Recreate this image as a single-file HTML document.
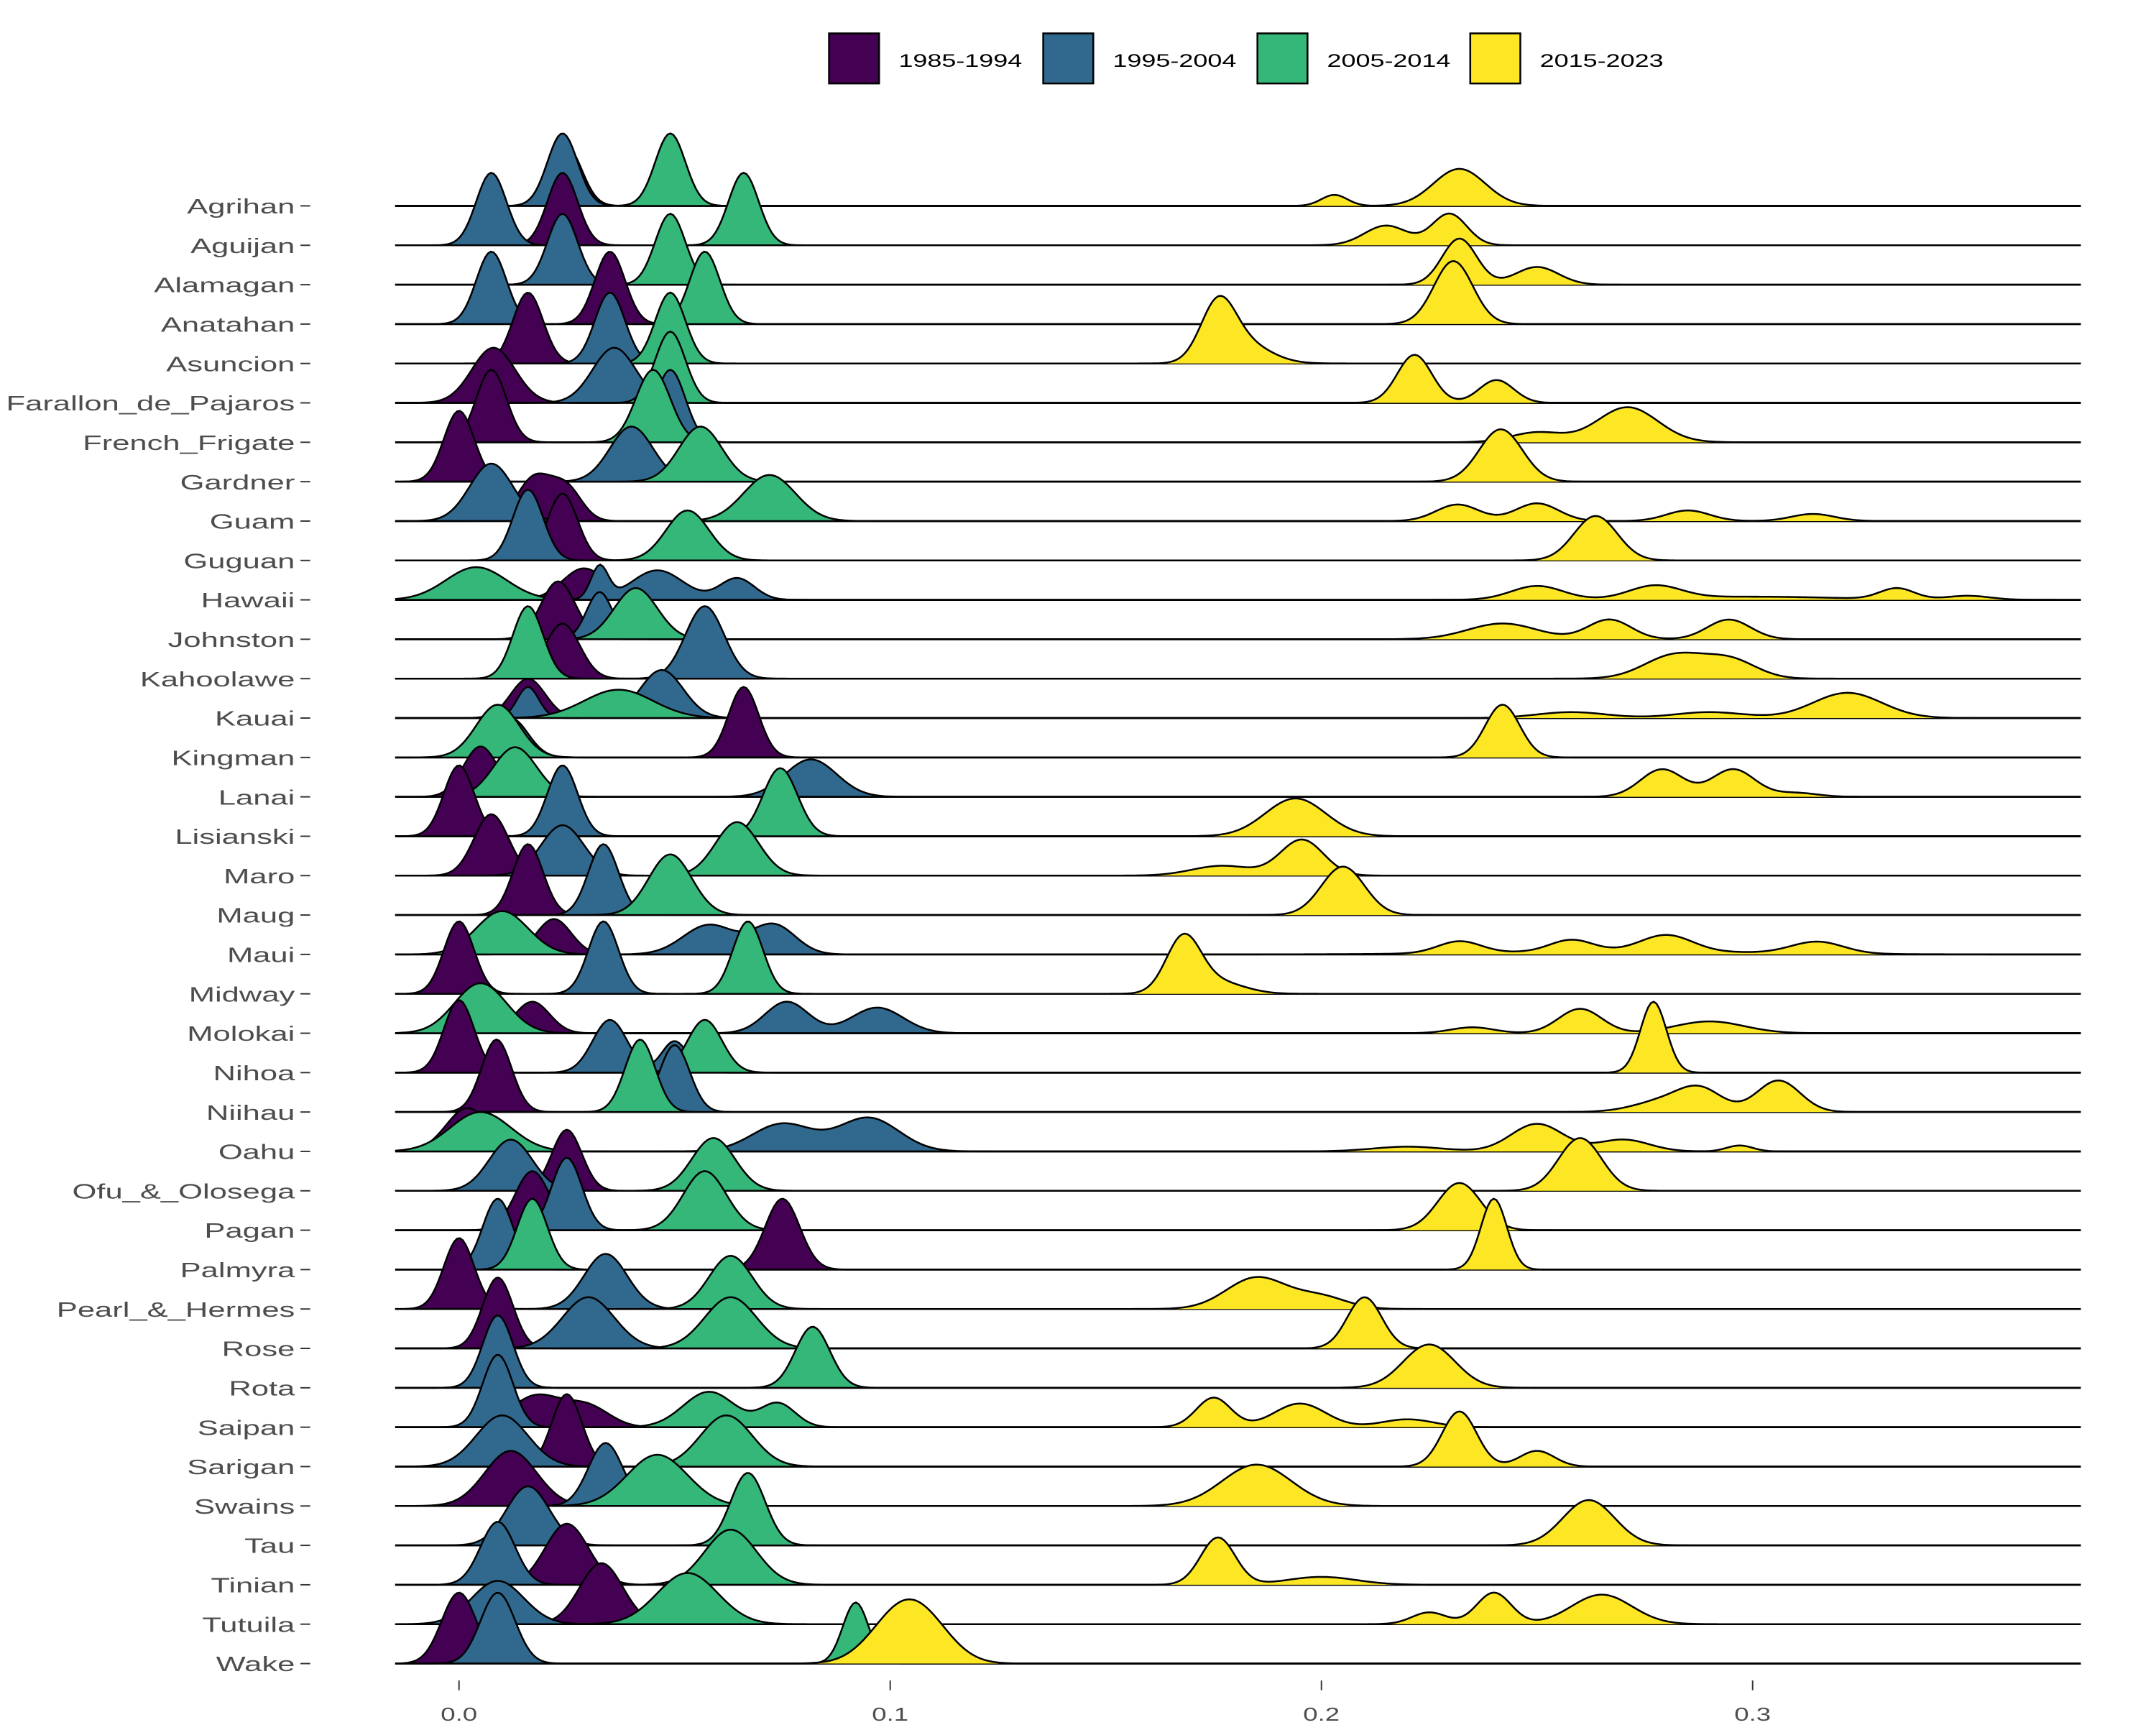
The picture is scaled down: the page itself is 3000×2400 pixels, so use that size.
<!DOCTYPE html>
<html><head><meta charset="utf-8"><style>
html,body{margin:0;padding:0;background:#fff;}
svg{display:block;font-family:"Liberation Sans",Arial,sans-serif;}
</style></head><body>
<svg id="chart" width="3000" height="2400" viewBox="0 0 1550 1240" xmlns="http://www.w3.org/2000/svg">
<g id="legend"></g>
<g id="ridges"></g>
<g id="yaxis"></g>
<g id="xaxis"></g>
</svg>
<script>
const islands = ["Agrihan","Aguijan","Alamagan","Anatahan","Asuncion","Farallon_de_Pajaros","French_Frigate","Gardner","Guam","Guguan","Hawaii","Johnston","Kahoolawe","Kauai","Kingman","Lanai","Lisianski","Maro","Maug","Maui","Midway","Molokai","Nihoa","Niihau","Oahu","Ofu_&_Olosega","Pagan","Palmyra","Pearl_&_Hermes","Rose","Rota","Saipan","Sarigan","Swains","Tau","Tinian","Tutuila","Wake"];
const periods = ["1985-1994","1995-2004","2005-2014","2015-2023"];
const periodColors = ["#440154","#31688E","#35B779","#FDE725"];
const xTicks = [0.0,0.1,0.2,0.3];
const xTickLabels = ["0.0","0.1","0.2","0.3"];
// density components per island: [center, sd, height in row units]
const p1985 = [
 [[0.025,.0035,1.5]],[[0.024,.0035,1.84]],[[0.024,.0035,1.2]],[[0.035,.0035,1.84]],[[0.016,.0035,1.8]],
 [[0.008,.005,1.4]],[[0.0075,.0035,1.84]],[[0.0,.0035,1.8]],[[0.0175,.004,1.1],[0.025,.0035,0.8]],[[0.024,.0035,1.7]],
 [[0.029,.005,0.8]],[[0.023,.004,1.47]],[[0.024,.004,1.4]],[[0.016,.004,1.0]],[[0.066,.0035,1.79]],
 [[0.005,.004,1.28]],[[0.0,.0035,1.8]],[[0.0075,.004,1.56]],[[0.016,.0035,1.8]],[[0.022,.004,0.9]],
 [[0.0,.0035,1.84]],[[0.017,.004,0.8]],[[0.0,.0035,1.84]],[[0.0087,.0035,1.84]],[[0.002,.005,1.1]],
 [[0.025,.0035,1.55]],[[0.017,.004,1.5]],[[0.075,.004,1.8]],[[0.0,.0035,1.8]],[[0.009,.0035,1.8]],
 [[0.009,.0035,1.0]],[[0.018,.006,0.8],[0.03,.005,0.5]],[[0.025,.0035,1.84]],[[0.012,.006,1.4]],[[0.016,.0035,1.2]],
 [[0.025,.005,1.55]],[[0.033,.005,1.55]],[[0.0,.004,1.8]]
];
const p1995 = [
 [[0.024,.0035,1.84]],[[0.0075,.0035,1.84]],[[0.024,.0035,1.8]],[[0.0075,.0035,1.84]],[[0.035,.0035,1.8]],
 [[0.036,.005,1.4]],[[0.049,.0035,1.84]],[[0.040,.005,1.4]],[[0.0075,.005,1.46]],[[0.016,.0035,1.8]],
 [[0.0326,.002,0.83],[0.046,.006,0.75],[0.0645,.004,0.55]],[[0.0326,.003,1.2]],[[0.057,.0045,1.84]],[[0.016,.0025,0.79],[0.047,.005,1.22]],[[0.012,.004,1.0]],
 [[0.0816,.006,0.95]],[[0.024,.0035,1.8]],[[0.024,.005,1.28]],[[0.0335,.0035,1.8]],[[0.058,.006,0.75],[0.073,.005,0.75]],
 [[0.0335,.0035,1.84]],[[0.076,.005,0.8],[0.097,.006,0.65]],[[0.035,.004,1.34],[0.05,.003,0.8]],[[0.05,.0035,1.7]],[[0.075,.007,0.7],[0.095,.007,0.85]],
 [[0.012,.005,1.3]],[[0.025,.0035,1.84]],[[0.009,.0035,1.8]],[[0.034,.005,1.4]],[[0.03,.006,1.3]],
 [[0.009,.0035,1.84]],[[0.009,.0035,1.84]],[[0.01,.006,1.3]],[[0.034,.004,1.6]],[[0.016,.005,1.5]],
 [[0.009,.004,1.6]],[[0.009,.006,1.1]],[[0.009,.004,1.8]]
];
const p2005 = [
 [[0.049,.0035,1.84]],[[0.066,.0035,1.84]],[[0.049,.0035,1.8]],[[0.057,.0035,1.84]],[[0.049,.0035,1.8]],
 [[0.049,.0035,1.81]],[[0.045,.004,1.84]],[[0.056,.005,1.4]],[[0.072,.006,1.17]],[[0.053,.005,1.27]],
 [[0.004,.007,0.83]],[[0.041,.005,1.3]],[[0.016,.0035,1.84]],[[0.037,.008,0.72]],[[0.009,.005,1.34]],
 [[0.013,.005,1.26]],[[0.0745,.004,1.73]],[[0.0645,.005,1.36]],[[0.049,.005,1.54]],[[0.01,.006,1.1]],
 [[0.067,.0035,1.84]],[[0.005,.006,1.27]],[[0.057,.004,1.34]],[[0.042,.0035,1.84]],[[0.005,.007,1.0]],
 [[0.059,.005,1.34]],[[0.057,.005,1.5]],[[0.017,.0035,1.8]],[[0.063,.005,1.35]],[[0.063,.006,1.3]],
 [[0.082,.004,1.55]],[[0.058,.006,0.9],[0.074,.004,0.6]],[[0.062,.006,1.3]],[[0.046,.007,1.3]],[[0.067,.004,1.84]],
 [[0.063,.006,1.4]],[[0.053,.007,1.3]],[[0.092,.003,1.55]]
];
const p2015 = [
 [[0.203,.003,0.28],[0.232,.006,0.94]],[[0.215,.005,0.5],[0.2297,.004,0.8]],[[0.232,.004,1.17],[0.25,.005,0.45]],[[0.2306,.0045,1.6]],[[0.176,.004,1.4],[0.182,.006,0.5]],
 [[0.2216,.004,1.22],[0.2406,.004,0.58]],[[0.25,.006,0.25],[0.271,.007,0.89]],[[0.2416,.005,1.33]],[[0.2316,.005,0.42],[0.25,.005,0.45],[0.285,.005,0.27],[0.314,.005,0.18]],[[0.2636,.005,1.13]],
 [[0.25,.006,0.35],[0.2774,.006,0.33],[0.3,.02,0.08],[0.3335,.004,0.28],[0.35,.005,0.1]],[[0.242,.008,0.4],[0.2668,.005,0.5],[0.2945,.005,0.5]],[[0.282,.007,0.6],[0.295,.006,0.45]],[[0.258,.008,0.15],[0.29,.008,0.15],[0.322,.008,0.64]],[[0.242,.004,1.34]],
 [[0.279,.005,0.7],[0.2955,.005,0.7],[0.31,.005,0.1]],[[0.194,.007,0.96]],[[0.177,.007,0.25],[0.1955,.005,0.91]],[[0.205,.005,1.23]],[[0.232,.005,0.3],[0.258,.005,0.3],[0.28,.006,0.42],[0.315,.006,0.3],[0.27,.03,0.08]],
 [[0.168,.004,1.4],[0.176,.006,0.3]],[[0.235,.005,0.15],[0.26,.005,0.62],[0.29,.008,0.3]],[[0.277,.003,1.8]],[[0.28,.007,0.3],[0.288,.005,0.5],[0.306,.005,0.8]],[[0.22,.008,0.12],[0.25,.006,0.7],[0.27,.006,0.3],[0.297,.003,0.15]],
 [[0.26,.005,1.34]],[[0.232,.005,1.2]],[[0.24,.003,1.8]],[[0.185,.007,0.8],[0.2,.006,0.3]],[[0.21,.004,1.3]],
 [[0.225,.006,1.1]],[[0.175,.004,0.75],[0.195,.006,0.6],[0.22,.006,0.2]],[[0.232,.004,1.4],[0.25,.004,0.4]],[[0.185,.008,1.05]],[[0.262,.006,1.15]],
 [[0.176,.004,1.2],[0.2,.008,0.2]],[[0.225,.004,0.3],[0.24,.004,0.8],[0.265,.007,0.75]],[[0.103,.007,1.4],[0.11,.006,0.4]]
];
const NS = "http://www.w3.org/2000/svg";
const X0 = 330, XPER = 3100, Y0 = 148, ROW = 28.32;
const xMin = -0.0148, xMax = 0.3761;
function xs(v){ return X0 + v*XPER; }
function ys(i){ return Y0 + i*ROW; }
function mk(tag, attrs, parent){ const e=document.createElementNS(NS,tag); for(const k in attrs) e.setAttribute(k,attrs[k]); parent.appendChild(e); return e; }
const series = [p1985,p1995,p2005,p2015];
const ridges = document.getElementById('ridges');
const N = 600;
islands.forEach((isl,i)=>{
  const g = mk('g',{},ridges);
  
  
  series.forEach((s,pi)=>{
    const comps = s[i];
    const base = ys(i);
    let pts = [];
    for(let k=0;k<=N;k++){
      const v = xMin + (xMax-xMin)*k/N;
      let d = 0;
      comps.forEach(c=>{ const z=(v-c[0])/c[1]; d += c[2]*Math.exp(-0.5*z*z); });
      pts.push([xs(v), base - d*ROW]);
    }
    const line = pts.map((p,k)=>(k?'L':'M')+p[0].toFixed(2)+','+p[1].toFixed(2)).join('');
    const fill = line + 'L'+xs(xMax).toFixed(2)+','+base+'L'+xs(xMin).toFixed(2)+','+base+'Z';
    const area = mk('path',{d:fill,fill:periodColors[pi],stroke:'none'},g);
    
    
    const ln = mk('path',{d:line,fill:'none',stroke:'#000','stroke-width':1.3},g);
    
    
  });
});
const yaxis = document.getElementById('yaxis');
islands.forEach((isl,i)=>{
  const t = mk('text',{x:0,y:0,transform:'translate(212,'+(ys(i)+5.5)+') scale(1.5,1)','text-anchor':'end','font-size':15,fill:'#4d4d4d'},yaxis);
  t.textContent = isl;
  
  
  const tk = mk('line',{x1:216,x2:223,y1:ys(i),y2:ys(i),stroke:'#333','stroke-width':1},yaxis);
  
  
});
const xaxis = document.getElementById('xaxis');
xTicks.forEach((v,k)=>{
  const tk = mk('line',{x1:xs(v),x2:xs(v),y1:1208,y2:1215,stroke:'#333','stroke-width':1},xaxis);
  
  
  const t = mk('text',{x:0,y:0,transform:'translate('+xs(v)+',1237) scale(1.4,1)','text-anchor':'middle','font-size':13.5,fill:'#4d4d4d'},xaxis);
  t.textContent = xTickLabels[k];
  
  
});
const legend = document.getElementById('legend');
const legX = [596,750,904,1057];
periods.forEach((p,k)=>{
  const g = mk('g',{},legend);
  
  
  mk('rect',{x:legX[k],y:24,width:36,height:36,fill:periodColors[k],stroke:'#000','stroke-width':1.3},g);
  const t = mk('text',{x:0,y:0,transform:'translate('+(legX[k]+50)+',48) scale(1.43,1)','font-size':13,fill:'#000'},g);
  t.textContent = p;
});
</script>
</body></html>
